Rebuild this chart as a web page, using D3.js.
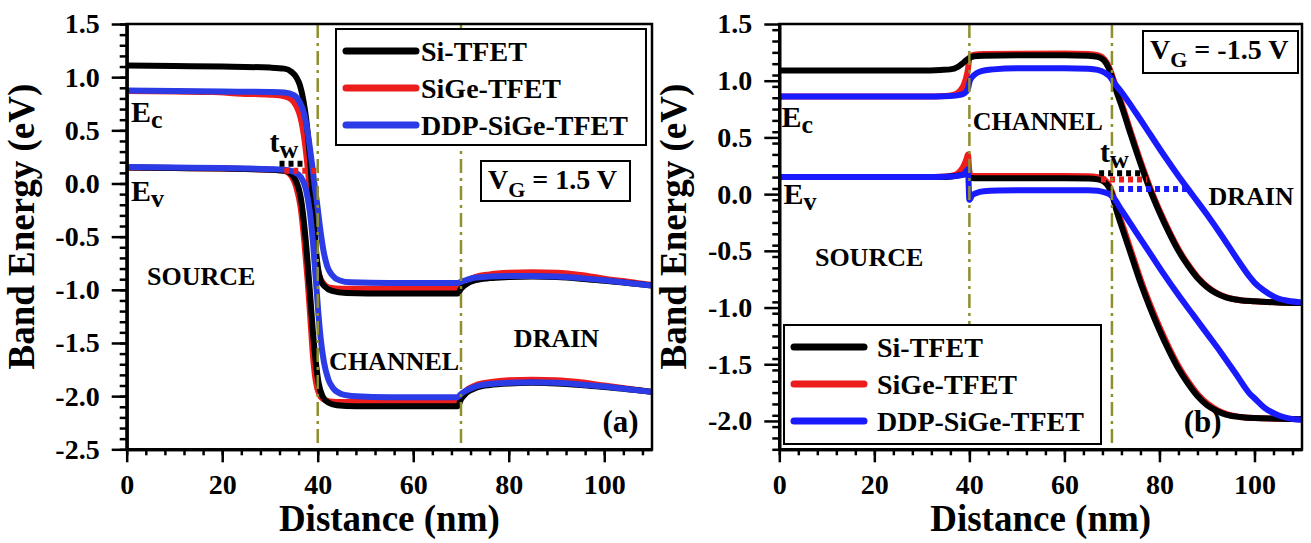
<!DOCTYPE html>
<html lang="en">
<head>
<meta charset="UTF-8">
<script type="text/javascript" src="https://cdn.jsdelivr.net/npm/d3@7/dist/d3.min.js"></script>
<title>Band Energy</title>
<style>
    body { margin: 0; background: #fff; }
    text { font-family: "Liberation Serif", "Times New Roman", serif; font-weight: bold; fill: #000; }
</style>
</head>
<body>
<script type="text/javascript">

    //Width and height
    var w = 1311;
    var h = 543;

    // axis ticks
    var xTicks = [0, 20, 40, 60, 80, 100];
    var xLabels = ["0", "20", "40", "60", "80", "100"];
    var yTicksA = [1.5, 1.0, 0.5, 0.0, -0.5, -1.0, -1.5, -2.0, -2.5];
    var yLabelsA = ["1.5", "1.0", "0.5", "0.0", "-0.5", "-1.0", "-1.5", "-2.0", "-2.5"];
    var yTicksB = [1.5, 1.0, 0.5, 0.0, -0.5, -1.0, -1.5, -2.0];
    var yLabelsB = ["1.5", "1.0", "0.5", "0.0", "-0.5", "-1.0", "-1.5", "-2.0"];

    var seriesNames = ["Si-TFET", "SiGe-TFET", "DDP-SiGe-TFET"];
    var regionEdges = [40, 70];

    // (a) VG = 1.5 V, [distance nm, energy eV]
    var aSiEc = [[0,1.11],[10,1.105],[20,1.1],[30,1.09],[33,1.08],[34.5,1.05],[35.5,1.0],[36.3,0.92],[37,0.78],[37.6,0.6],[38.1,0.38],[38.6,0.1],[39.0,-0.2],[39.5,-0.55],[40,-0.78],[40.6,-0.91],[41.5,-0.97],[43,-1.01],[46,-1.03],[55,-1.035],[69.3,-1.035],[70,-0.99],[71,-0.95],[73,-0.91],[76,-0.89],[80,-0.88],[85,-0.875],[90,-0.88],[95,-0.895],[100,-0.915],[105,-0.935],[110,-0.96]];
    var aSiGeEc = [[0,0.87],[10,0.865],[18,0.86],[24,0.845],[30,0.835],[33,0.82],[34.5,0.79],[35.5,0.73],[36.4,0.62],[37.2,0.42],[37.9,0.15],[38.5,-0.15],[39.0,-0.45],[39.6,-0.7],[40.3,-0.86],[41.2,-0.94],[42.5,-0.98],[45,-0.99],[69.3,-0.99],[70,-0.96],[71,-0.92],[73,-0.88],[76,-0.855],[80,-0.84],[85,-0.835],[90,-0.84],[95,-0.86],[100,-0.895],[105,-0.925],[110,-0.955]];
    var aDdpEc = [[0,0.875],[10,0.87],[20,0.865],[30,0.86],[33,0.855],[35,0.83],[36.3,0.76],[37.2,0.65],[38,0.45],[38.7,0.22],[39.3,0.0],[39.9,-0.2],[40.5,-0.42],[41.2,-0.63],[42,-0.78],[43,-0.86],[44.5,-0.91],[47,-0.93],[55,-0.935],[69.3,-0.935],[70,-0.925],[71,-0.91],[73,-0.885],[76,-0.875],[80,-0.87],[85,-0.87],[90,-0.875],[95,-0.89],[100,-0.91],[105,-0.935],[110,-0.96]];
    var aSiEv = [[0,0.15],[10,0.145],[20,0.14],[30,0.13],[33,0.12],[34.5,0.09],[35.5,0.02],[36.4,-0.12],[37.2,-0.4],[37.9,-0.75],[38.5,-1.1],[39.0,-1.4],[39.6,-1.68],[40.2,-1.88],[41,-2.0],[42.2,-2.06],[44,-2.085],[48,-2.095],[69.3,-2.095],[70,-2.03],[71,-1.975],[73,-1.925],[76,-1.895],[80,-1.88],[85,-1.875],[90,-1.88],[95,-1.895],[100,-1.915],[105,-1.935],[110,-1.96]];
    var aSiGeEv = [[0,0.15],[10,0.145],[20,0.14],[30,0.13],[33,0.12],[34.5,0.07],[35.5,-0.03],[36.4,-0.22],[37.2,-0.55],[37.9,-0.92],[38.5,-1.3],[39.0,-1.62],[39.6,-1.86],[40.3,-1.98],[41.2,-2.03],[42.5,-2.05],[45,-2.055],[69.3,-2.055],[70,-2.0],[71,-1.95],[73,-1.9],[76,-1.87],[80,-1.85],[85,-1.845],[90,-1.85],[95,-1.87],[100,-1.9],[105,-1.93],[110,-1.96]];
    var aDdpEv = [[0,0.155],[10,0.15],[20,0.145],[30,0.135],[33,0.13],[35,0.11],[36.5,0.06],[37.5,-0.05],[38.3,-0.25],[39,-0.55],[39.6,-0.9],[40.1,-1.2],[40.6,-1.45],[41.3,-1.68],[42.2,-1.84],[43.3,-1.93],[45,-1.98],[48,-2.0],[55,-2.01],[69.3,-2.01],[70,-1.98],[71,-1.95],[73,-1.91],[76,-1.885],[80,-1.875],[85,-1.87],[90,-1.875],[95,-1.89],[100,-1.91],[105,-1.935],[110,-1.96]];
    var aTwSi = [[32,0.185],[37.5,0.185]];
    var aTwSiGe = [[33,0.12],[39.8,0.12]];

    // (b) VG = -1.5 V
    var bSiEc = [[0,1.09],[20,1.09],[30,1.09],[34,1.095],[36,1.1],[37.5,1.12],[38.5,1.15],[39.3,1.18],[40,1.2],[41,1.215],[43,1.22],[50,1.225],[60,1.225],[65,1.22],[67,1.21],[68.3,1.18],[69.2,1.12],[70,1.03],[71,0.9],[72,0.78],[74,0.52],[76,0.27],[78,0.04],[80,-0.16],[82,-0.34],[84,-0.5],[86,-0.63],[88,-0.74],[90,-0.82],[92,-0.875],[94,-0.91],[97,-0.935],[100,-0.945],[105,-0.955],[110,-0.96]];
    var bSiGeEc = [[0,0.86],[20,0.86],[30,0.86],[35,0.865],[37,0.88],[38,0.91],[38.8,0.96],[39.4,1.04],[39.7,1.1],[40.0,1.2],[41,1.23],[43,1.235],[60,1.24],[65,1.235],[67,1.225],[68.4,1.19],[69.3,1.13],[70.1,1.04],[71.1,0.91],[72.2,0.78],[74.2,0.52],[76.2,0.27],[78.2,0.04],[80.2,-0.16],[82.2,-0.34],[84.2,-0.5],[86.2,-0.63],[88.2,-0.74],[90.2,-0.82],[92.2,-0.875],[94.2,-0.91],[97,-0.935],[100,-0.945],[105,-0.955],[110,-0.96]];
    var bDdpEc = [[0,0.86],[20,0.86],[30,0.86],[36,0.865],[38,0.875],[39,0.89],[39.7,0.93],[40.1,1.0],[41,1.05],[42.5,1.085],[45,1.1],[50,1.11],[60,1.11],[65,1.105],[67,1.095],[68.5,1.07],[69.5,1.04],[70.3,0.99],[72,0.9],[75,0.72],[78,0.53],[81,0.34],[84,0.16],[87,-0.01],[90,-0.18],[93,-0.36],[96,-0.55],[99,-0.73],[100,-0.78],[102,-0.85],[105,-0.92],[107,-0.94],[110,-0.955]];
    var bSiEv = [[0,0.15],[20,0.15],[30,0.15],[35,0.152],[37,0.16],[38.5,0.17],[39.5,0.18],[40,0.145],[41,0.14],[50,0.14],[60,0.14],[65,0.138],[67,0.13],[68.3,0.11],[69.2,0.07],[70,0.0],[71,-0.15],[72,-0.28],[74,-0.53],[76,-0.78],[78,-1.0],[80,-1.2],[82,-1.38],[84,-1.54],[86,-1.67],[88,-1.78],[90,-1.86],[92,-1.91],[94,-1.945],[97,-1.965],[100,-1.975],[105,-1.98],[110,-1.985]];
    var bSiGeEv = [[0,0.15],[20,0.15],[30,0.15],[35,0.155],[37,0.17],[38,0.2],[38.8,0.25],[39.4,0.31],[39.7,0.35],[40.0,0.2],[40.4,0.16],[41,0.16],[50,0.16],[60,0.16],[65,0.158],[67,0.15],[68.4,0.13],[69.3,0.085],[70.1,0.01],[71.1,-0.14],[72.2,-0.27],[74.2,-0.52],[76.2,-0.77],[78.2,-0.99],[80.2,-1.19],[82.2,-1.37],[84.2,-1.53],[86.2,-1.66],[88.2,-1.77],[90.2,-1.85],[92.2,-1.905],[94.2,-1.94],[97,-1.965],[100,-1.975],[105,-1.98],[110,-1.985]];
    var bDdpEv = [[0,0.15],[20,0.15],[30,0.15],[36,0.155],[38,0.165],[39,0.18],[39.7,0.22],[40.0,-0.05],[40.6,-0.01],[41.5,0.01],[43,0.025],[46,0.032],[55,0.035],[65,0.035],[67,0.03],[68.5,0.015],[69.5,0.0],[70.3,-0.03],[72,-0.14],[75,-0.33],[78,-0.52],[81,-0.71],[84,-0.89],[87,-1.06],[90,-1.23],[93,-1.4],[96,-1.58],[99,-1.76],[100,-1.8],[102,-1.88],[105,-1.95],[107,-1.975],[110,-1.99]];
    var bTwSi = [[67.3,0.185],[76.5,0.185]];
    var bTwSiGe = [[67.7,0.13],[77.4,0.13]];
    var bTwDdp = [[71.5,0.045],[86.5,0.045]];

    var colors = { si: "#000000", sige: "#ee1d1d", ddp: "#2b3be6", ddpB: "#1a1aff" };
    var olive = "#8f8f2c";

    var svg = d3.select("body")
        .append("svg")
        .attr("width", w)
        .attr("height", h);

    function drawPanel(p) {
        var x = d3.scaleLinear().domain([0, 110]).range([p.left, p.right]);
        var y = d3.scaleLinear().domain(p.yDomain).range([p.bottom, p.top]);
        var g = svg.append("g");

        var line = d3.line()
            .x(function (d) { return x(d[0]); })
            .y(function (d) { return y(d[1]); })
            .curve(d3.curveMonotoneX);

        // band curves
        p.curves.forEach(function (c) {
            g.append("path")
                .datum(c.data)
                .attr("d", line)
                .attr("fill", "none")
                .attr("stroke", c.color)
                .attr("stroke-width", 6)
                .attr("stroke-linejoin", "round");
        });

        // tunnelling width markers
        p.tw.forEach(function (c) {
            g.append("path")
                .datum(c.data)
                .attr("d", d3.line().x(function (d) { return x(d[0]); }).y(function (d) { return y(d[1]); }))
                .attr("fill", "none")
                .attr("stroke", c.color)
                .attr("stroke-width", 6)
                .attr("stroke-dasharray", "5,4");
        });

        // region boundaries
        g.selectAll(".edge")
            .data(regionEdges)
            .enter()
            .append("line")
            .attr("x1", function (d) { return x(d); })
            .attr("x2", function (d) { return x(d); })
            .attr("y1", p.top)
            .attr("y2", p.bottom)
            .attr("stroke", olive)
            .attr("stroke-width", 2.5)
            .attr("stroke-dasharray", "14,5,3,5");

        // frame
        g.append("rect")
            .attr("x", p.left)
            .attr("y", p.top)
            .attr("width", p.right - p.left)
            .attr("height", p.bottom - p.top)
            .attr("fill", "none")
            .attr("stroke", "#000")
            .attr("stroke-width", 2.5);

        // axes
        var minorX = d3.range(0, 110.1, 4);
        var xMinor = d3.axisBottom(x).tickValues(minorX).tickSize(6).tickSizeOuter(0).tickFormat("");
        var xMajor = d3.axisBottom(x).tickValues(xTicks).tickSize(13).tickSizeOuter(0).tickPadding(12)
            .tickFormat(function (d, i) { return xLabels[i]; });
        var minorY = d3.range(p.yDomain[0], p.yDomain[1] + 0.001, p.yMinor);
        var yMinor = d3.axisLeft(y).tickValues(minorY).tickSize(7).tickSizeOuter(0).tickFormat("");
        var yMajor = d3.axisLeft(y).tickValues(p.yTicks).tickSize(15).tickSizeOuter(0).tickPadding(12)
            .tickFormat(function (d, i) { return p.yLabels[i]; });

        [xMinor, xMajor].forEach(function (ax) {
            g.append("g").attr("transform", "translate(0," + p.bottom + ")").call(ax);
        });
        [yMinor, yMajor].forEach(function (ax) {
            g.append("g").attr("transform", "translate(" + p.left + ",0)").call(ax);
        });
        g.selectAll(".domain").attr("stroke-width", 3);
        g.selectAll(".tick line").attr("stroke-width", 2.5);
        g.selectAll(".tick text").style("font-size", "28px").attr("fill", "#000");

        // axis titles
        g.append("text")
            .attr("x", (p.left + p.right) / 2)
            .attr("y", 531)
            .attr("text-anchor", "middle")
            .style("font-size", "37px")
            .text("Distance (nm)");
        g.append("text")
            .attr("transform", "translate(" + (p.left - 93) + "," + ((p.top + p.bottom) / 2 - 10) + ") rotate(-90)")
            .attr("text-anchor", "middle")
            .style("font-size", "37px")
            .text("Band Energy (eV)");

        // annotations
        function sub(xv, yv, main, small, size) {
            var t = g.append("text").attr("x", x(xv)).attr("y", y(yv)).style("font-size", size + "px");
            t.append("tspan").text(main);
            t.append("tspan").attr("dy", 6).style("font-size", (size - 4) + "px").text(small);
        }
        sub(p.ec[0], p.ec[1], "E", "c", 30);
        sub(p.ev[0], p.ev[1], "E", "v", 30);
        sub(p.twPos[0], p.twPos[1], "t", "w", 30);

        p.regions.forEach(function (r) {
            g.append("text")
                .attr("x", x(r.x))
                .attr("y", y(r.y))
                .attr("text-anchor", "middle")
                .style("font-size", "26px")
                .text(r.name);
        });
        g.append("text")
            .attr("x", x(p.tag[0]))
            .attr("y", y(p.tag[1]))
            .attr("text-anchor", "middle")
            .style("font-size", "31px")
            .text(p.tag[2]);

        // VG box
        var vb = g.append("g").attr("transform", "translate(" + p.vg.x + "," + p.vg.y + ")");
        vb.append("rect")
            .attr("width", p.vg.w)
            .attr("height", p.vg.h)
            .attr("fill", "#fff")
            .attr("stroke", "#000")
            .attr("stroke-width", 2);
        var vt = vb.append("text").attr("x", 7).attr("y", 28).style("font-size", "28px");
        vt.append("tspan").text("V");
        vt.append("tspan").attr("dy", 8).style("font-size", "22px").text("G");
        vt.append("tspan").attr("dy", -8).text(" = " + p.vg.label);

        // legend
        var lg = g.append("g").attr("transform", "translate(" + p.legend.x + "," + p.legend.y + ")");
        lg.append("rect")
            .attr("width", p.legend.w)
            .attr("height", p.legend.h)
            .attr("fill", "#fff")
            .attr("stroke", "#000")
            .attr("stroke-width", 2);
        var rows = lg.selectAll(".row")
            .data(seriesNames)
            .enter()
            .append("g")
            .attr("transform", function (d, i) { return "translate(0," + (22 + i * 37) + ")"; });
        rows.append("line")
            .attr("x1", p.legend.lx1)
            .attr("x2", p.legend.lx2)
            .attr("stroke", function (d, i) { return p.legendColors[i]; })
            .attr("stroke-width", 7)
            .attr("stroke-linecap", "round");
        rows.append("text")
            .attr("x", p.legend.tx)
            .attr("y", 10)
            .style("font-size", "28px")
            .text(function (d) { return d; });
    }

    drawPanel({
        left: 126.7, right: 652, top: 24, bottom: 449.3,
        yDomain: [-2.5, 1.5], yTicks: yTicksA, yLabels: yLabelsA, yMinor: 0.1,
        curves: [
            { data: aSiGeEc, color: colors.sige }, { data: aSiGeEv, color: colors.sige },
            { data: aSiEc, color: colors.si }, { data: aSiEv, color: colors.si },
            { data: aDdpEc, color: colors.ddp }, { data: aDdpEv, color: colors.ddp }
        ],
        tw: [{ data: aTwSi, color: colors.si }, { data: aTwSiGe, color: colors.sige }],
        ec: [0.9, 0.575], ev: [0.9, -0.168], twPos: [29.9, 0.296],
        regions: [
            { name: "SOURCE", x: 15.6, y: -0.955 },
            { name: "CHANNEL", x: 56, y: -1.758 },
            { name: "DRAIN", x: 90, y: -1.536 }
        ],
        tag: [103.4, -2.337, "(a)"],
        vg: { x: 481, y: 161, w: 149, h: 40, label: "1.5 V" },
        legend: { x: 336, y: 29, w: 310, h: 116, lx1: 10, lx2: 80, tx: 85 },
        legendColors: [colors.si, colors.sige, colors.ddp]
    });

    drawPanel({
        left: 779.3, right: 1302, top: 24, bottom: 449.3,
        yDomain: [-2.25, 1.5], yTicks: yTicksB, yLabels: yLabelsB, yMinor: 0.1,
        curves: [
            { data: bSiGeEc, color: colors.sige }, { data: bSiGeEv, color: colors.sige },
            { data: bSiEc, color: colors.si }, { data: bSiEv, color: colors.si },
            { data: bDdpEc, color: colors.ddpB }, { data: bDdpEv, color: colors.ddpB }
        ],
        tw: [{ data: bTwSi, color: colors.si }, { data: bTwSiGe, color: colors.sige }, { data: bTwDdp, color: colors.ddpB }],
        ec: [0.44, 0.593], ev: [0.86, -0.084], twPos: [67.5, 0.285],
        regions: [
            { name: "SOURCE", x: 18.9, y: -0.631 },
            { name: "CHANNEL", x: 54.4, y: 0.568 },
            { name: "DRAIN", x: 99.3, y: -0.099 }
        ],
        tag: [89.1, -2.097, "(b)"],
        vg: { x: 1143, y: 31, w: 155, h: 42, label: "-1.5 V" },
        legend: { x: 784, y: 325, w: 317, h: 119, lx1: 10, lx2: 80, tx: 93 },
        legendColors: [colors.si, colors.sige, colors.ddpB]
    });

</script>
</body>
</html>
